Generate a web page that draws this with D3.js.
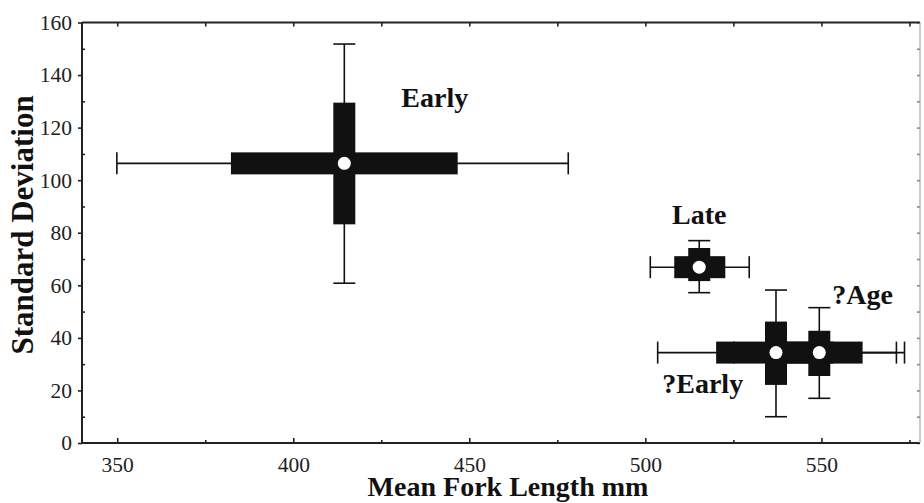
<!DOCTYPE html>
<html>
<head>
<meta charset="utf-8">
<script src="https://cdn.jsdelivr.net/npm/d3@7"></script>
<style>
  body { margin: 0; background: #fff; }
  svg { display: block; }
</style>
</head>
<body>
<svg id="chart" width="924" height="503"></svg>
<script>
// groups and their values (mean fork length, standard deviation)
const groups = ["Early", "Late", "?Early", "?Age"];
const meanLength = [414.5, 515.3, 537.1, 549.4];
const stdDev = [106.4, 66.9, 34.4, 34.4];
// thick bars (inner interval) and whiskers (outer interval), per group
const lengthBox = [[382.3, 446.7], [508.2, 522.7], [520.1, 553.4], [537.1, 561.7]];
const lengthWhisker = [[349.9, 478.1], [501.4, 529.5], [503.5, 571.3], [525.2, 573.6]];
const sdBox = [[83.2, 129.5], [61.6, 74.2], [22.1, 46.2], [25.5, 42.7]];
const sdWhisker = [[60.8, 151.8], [57.2, 77.0], [10.0, 58.2], [17.0, 51.5]];
// label anchors in data units
const labelAt = [[430.7, 127.9], [507.6, 83.3], [504.8, 19.0], [553.1, 52.9]];

const xTicks = [350, 400, 450, 500, 550];
const xMinor = [375, 425, 475, 525, 575];
const yTicks = [0, 20, 40, 60, 80, 100, 120, 140, 160];
const yMinor = [10, 30, 50, 70, 90, 110, 130, 150];

const data = groups.map((name, i) => ({
  name,
  x: meanLength[i],
  y: stdDev[i],
  xb: lengthBox[i],
  xw: lengthWhisker[i],
  yb: sdBox[i],
  yw: sdWhisker[i],
  label: labelAt[i],
}));

const svg = d3.select("#chart");
const mLeft = 82, mRight = 920, mTop = 22.5, mBottom = 443;
const barW = 22; // thickness of the filled bars and cap length

const x = d3.scaleLinear().domain([340, 578]).range([mLeft, mRight]);
const y = d3.scaleLinear().domain([0, 160]).range([mBottom, mTop]);

const serif = "'Liberation Serif', 'Times New Roman', serif";

// axes, ticks point inward
function styleAxis(g) {
  g.select(".domain").remove();
  g.selectAll(".tick line").attr("stroke", "#222").attr("stroke-width", 1.6);
  g.selectAll(".tick text")
    .attr("font-family", serif)
    .attr("font-size", 21.5)
    .attr("fill", "#222");
}

svg.append("g")
  .attr("transform", `translate(0,${mBottom})`)
  .call(d3.axisBottom(x).tickValues(xTicks).tickSizeInner(-5).tickSizeOuter(0).tickPadding(0))
  .call(styleAxis)
  .call((g) => g.selectAll(".tick text").attr("y", 28.5).attr("dy", 0));

svg.append("g")
  .attr("transform", `translate(0,${mBottom})`)
  .call(d3.axisBottom(x).tickValues(xMinor).tickSizeInner(-3).tickSizeOuter(0).tickFormat(""))
  .call(styleAxis);

svg.append("g")
  .attr("transform", `translate(0,${mTop})`)
  .call(d3.axisTop(x).tickValues(xTicks.concat(xMinor)).tickSizeInner(-4).tickSizeOuter(0).tickFormat(""))
  .call(styleAxis);

svg.append("g")
  .attr("transform", `translate(${mLeft},0)`)
  .call(d3.axisLeft(y).tickValues(yTicks).tickSizeInner(4).tickSizeOuter(0).tickPadding(6))
  .call(styleAxis)
  .call((g) => g.selectAll(".tick text").attr("x", -10));

svg.append("g")
  .attr("transform", `translate(${mLeft},0)`)
  .call(d3.axisLeft(y).tickValues(yMinor).tickSizeInner(-3).tickSizeOuter(0).tickFormat(""))
  .call(styleAxis);

svg.append("g")
  .attr("transform", `translate(${mRight},0)`)
  .call(d3.axisRight(y).tickValues(yTicks.concat(yMinor)).tickSizeInner(-3).tickSizeOuter(0).tickFormat(""))
  .call(styleAxis)
  .call((g) => g.selectAll(".tick line").attr("stroke", "#888"));

// frame
svg.append("line").attr("x1", mLeft).attr("x2", mRight).attr("y1", mBottom).attr("y2", mBottom)
  .attr("stroke", "#222").attr("stroke-width", 2);
svg.append("line").attr("x1", mLeft).attr("x2", mRight).attr("y1", mTop).attr("y2", mTop)
  .attr("stroke", "#222").attr("stroke-width", 2);
svg.append("line").attr("x1", mLeft).attr("x2", mLeft).attr("y1", mTop).attr("y2", mBottom)
  .attr("stroke", "#222").attr("stroke-width", 2);
svg.append("line").attr("x1", mRight).attr("x2", mRight).attr("y1", mTop).attr("y2", mBottom)
  .attr("stroke", "#999").attr("stroke-width", 1);

// whiskers
const wh = svg.append("g").attr("stroke", "#111").attr("stroke-width", 1.6);
data.forEach((d) => {
  wh.append("line")
    .attr("x1", x(d.xw[0])).attr("x2", x(d.xw[1]))
    .attr("y1", y(d.y)).attr("y2", y(d.y));
  d.xw.forEach((v) => {
    wh.append("line")
      .attr("x1", x(v)).attr("x2", x(v))
      .attr("y1", y(d.y) - barW / 2).attr("y2", y(d.y) + barW / 2);
  });
  wh.append("line")
    .attr("x1", x(d.x)).attr("x2", x(d.x))
    .attr("y1", y(d.yw[0])).attr("y2", y(d.yw[1]));
  d.yw.forEach((v) => {
    wh.append("line")
      .attr("x1", x(d.x) - barW / 2).attr("x2", x(d.x) + barW / 2)
      .attr("y1", y(v)).attr("y2", y(v));
  });
});

// filled bars
const bars = svg.append("g").attr("fill", "#111");
bars.selectAll("rect.h")
  .data(data)
  .join("rect")
  .attr("class", "h")
  .attr("x", (d) => x(d.xb[0]))
  .attr("width", (d) => x(d.xb[1]) - x(d.xb[0]))
  .attr("y", (d) => y(d.y) - barW / 2)
  .attr("height", barW);
bars.selectAll("rect.v")
  .data(data)
  .join("rect")
  .attr("class", "v")
  .attr("x", (d) => x(d.x) - barW / 2)
  .attr("width", barW)
  .attr("y", (d) => y(d.yb[1]))
  .attr("height", (d) => y(d.yb[0]) - y(d.yb[1]));

// white mean dots
svg.append("g")
  .selectAll("circle")
  .data(data)
  .join("circle")
  .attr("cx", (d) => x(d.x))
  .attr("cy", (d) => y(d.y))
  .attr("r", 6.5)
  .attr("fill", "#fff");

// group labels
svg.append("g")
  .selectAll("text")
  .data(data)
  .join("text")
  .attr("x", (d) => x(d.label[0]))
  .attr("y", (d) => y(d.label[1]))
  .attr("font-family", serif)
  .attr("font-weight", "bold")
  .attr("font-size", 28)
  .attr("fill", "#111")
  .text((d) => d.name);

// axis titles
svg.append("text")
  .attr("x", 508)
  .attr("y", 496)
  .attr("text-anchor", "middle")
  .attr("font-family", serif)
  .attr("font-weight", "bold")
  .attr("font-size", 28)
  .attr("fill", "#111")
  .text("Mean Fork Length mm");

svg.append("text")
  .attr("transform", "translate(33,225) rotate(-90)")
  .attr("text-anchor", "middle")
  .attr("font-family", serif)
  .attr("font-weight", "bold")
  .attr("font-size", 31)
  .attr("fill", "#111")
  .text("Standard Deviation");
</script>
</body>
</html>
